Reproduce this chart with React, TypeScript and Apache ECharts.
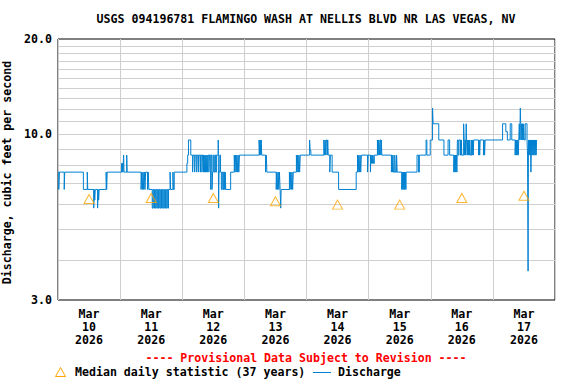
import React, { useEffect, useRef } from 'react';
import * as echarts from 'echarts';

const TITLE = 'USGS 094196781 FLAMINGO WASH AT NELLIS BLVD NR LAS VEGAS, NV';
const Y_NAME = 'Discharge, cubic feet per second';
const PROVISIONAL = '---- Provisional Data Subject to Revision ----';
const LEGEND_MEDIAN = 'Median daily statistic (37 years)';
const LEGEND_DISCHARGE = 'Discharge';
const MONTH = 'Mar';
const YEAR = '2026';
const DAYS = ['10', '11', '12', '13', '14', '15', '16', '17'];
const Y_MIN = 3;
const Y_MAX = 20;
const GRID_VALUES = [4, 5, 6, 7, 8, 9, 10, 11, 12, 13, 14, 15, 16, 17, 18, 19];

// median daily statistic, one per day (plotted at noon)
const MEDIAN = [6.25, 6.3, 6.3, 6.15, 6.0, 6.0, 6.3, 6.4];

// discharge readings per day: [hour of day, cfs]
const day10 = [
  [0, 7.6], [0.3, 6.7], [0.55, 7.6], [2.4, 6.7], [2.6, 7.6],
  [9.8, 6.7], [11.3, 7.6], [11.5, 6.7],
  [13.8, 5.85], [14.0, 6.7], [14.2, 6.2], [14.4, 6.7],
  [15.3, 5.85], [15.5, 6.7], [15.7, 6.2], [15.9, 6.7],
  [18.6, 7.6], [18.8, 6.7], [19.0, 7.6],
];
const day11 = [
  [0.6, 8.1], [0.8, 7.6], [0.95, 8.1], [1.1, 7.6], [1.35, 8.6], [1.5, 7.6], [2.55, 8.6], [2.7, 7.6],
  [8.1, 6.7], [8.35, 7.6], [8.6, 6.7], [8.85, 7.6], [9.1, 6.7], [9.35, 7.6], [9.6, 6.7], [9.85, 7.6],
  [10.6, 6.7], [10.85, 7.6], [11.1, 6.7],
  [12.4, 5.85], [12.7, 6.7], [13.0, 5.85], [13.3, 6.7], [13.6, 5.85], [13.9, 6.7], [14.2, 5.85],
  [14.5, 6.7], [14.8, 5.85], [15.1, 6.7], [15.4, 5.85], [15.7, 6.7], [16.0, 5.85], [16.3, 6.7],
  [16.6, 5.85], [16.9, 6.7], [17.2, 5.85], [17.5, 6.7], [17.8, 5.85], [18.1, 6.7], [18.4, 5.85], [18.7, 6.7],
  [19.3, 7.6], [19.5, 6.7], [20.4, 7.6], [20.6, 6.7], [20.9, 7.6],
];
const day12 = [
  [1.8, 8.1], [2.1, 8.6], [2.4, 9.6], [3.3, 8.6],
  [4.0, 7.6], [4.2, 8.6], [4.8, 7.6], [5.0, 8.6], [5.6, 7.6], [5.8, 8.6], [6.3, 7.6], [6.5, 8.6],
  [7.0, 7.6], [7.2, 8.6], [7.6, 7.6], [7.8, 8.6], [8.2, 7.6], [8.4, 8.6], [8.6, 7.6], [8.8, 8.6],
  [9.0, 7.6], [9.2, 8.6], [9.4, 7.6], [9.6, 8.6], [9.8, 7.6], [10.0, 8.6], [10.3, 7.6], [10.5, 8.6],
  [11.0, 6.7], [11.2, 8.6], [11.5, 6.7], [11.7, 7.6], [12.0, 8.6], [12.3, 7.6], [12.6, 8.6], [12.9, 7.6], [13.2, 8.6],
  [13.9, 9.6], [14.05, 5.85], [14.2, 7.6], [14.5, 8.6], [14.8, 7.6],
  [15.1, 6.7], [15.4, 7.6], [15.7, 6.7], [16.0, 7.6], [16.3, 6.7], [16.6, 7.6], [16.8, 6.7],
  [18.7, 7.6],
  [20.1, 8.6], [20.35, 7.6], [20.6, 8.6], [20.85, 7.6], [21.1, 8.6], [21.35, 7.6], [21.6, 8.6], [21.85, 7.6], [22.1, 8.6],
];
const day13 = [
  [5.7, 9.6], [5.9, 8.6], [6.1, 9.6], [6.35, 8.6], [6.5, 9.6], [6.7, 8.6],
  [8.2, 7.6], [8.45, 8.6], [8.7, 7.6],
  [12.3, 6.7], [12.55, 7.6], [12.8, 6.7], [13.05, 7.6], [13.3, 6.7], [13.55, 7.6], [13.8, 6.7], [14.05, 5.85], [14.2, 6.7],
  [17.4, 7.6], [17.65, 6.7], [17.9, 7.6], [18.15, 6.7], [18.4, 7.6], [18.65, 6.7], [18.9, 7.6],
  [20.1, 8.6], [20.35, 7.6], [20.6, 8.6], [20.85, 7.6], [21.1, 8.6], [21.35, 7.6], [21.6, 8.6],
];
const day14 = [
  [1.2, 9.6], [1.4, 8.9], [1.7, 8.6],
  [6.7, 9.6], [6.95, 8.6], [7.2, 9.6], [7.45, 8.6], [7.7, 9.6], [8.0, 8.6], [8.2, 9.6], [8.4, 8.6],
  [9.0, 7.6], [9.2, 8.6], [9.9, 7.6],
  [12.4, 6.7],
  [19.2, 7.6],
  [19.7, 8.6], [19.95, 7.6], [20.2, 8.6], [20.45, 7.6], [20.7, 8.6], [20.95, 7.6], [21.2, 8.6],
  [23.6, 7.6], [23.8, 8.6],
];
const day15 = [
  [0.7, 7.6], [0.9, 8.6], [1.1, 8.1], [1.3, 8.6], [1.5, 8.1], [1.7, 8.6], [1.9, 8.1], [2.2, 8.6],
  [3.4, 9.6], [3.65, 8.6], [3.9, 9.6], [4.15, 8.6], [4.4, 9.6], [4.7, 8.6], [4.9, 9.6], [5.1, 8.6],
  [8.8, 7.6], [9.0, 8.6], [9.2, 7.6], [9.4, 8.6], [9.6, 7.6], [10.1, 8.6], [10.3, 7.6], [10.8, 8.6], [11.0, 7.6],
  [12.8, 6.7], [13.0, 7.6], [13.2, 6.7], [13.4, 7.6], [13.6, 6.7], [13.8, 7.6], [14.0, 6.7], [14.2, 7.6], [14.4, 6.7], [14.5, 7.6],
  [18.7, 8.6], [19.3, 7.6], [19.6, 8.6],
  [22.2, 9.6], [22.5, 8.6], [23.8, 9.6],
];
const day16 = [
  [0.7, 12.1], [0.9, 10.8],
  [3.1, 9.6],
  [5.1, 8.6],
  [6.7, 9.6], [7.3, 8.6],
  [8.9, 7.6], [9.1, 8.6], [9.3, 7.6], [9.5, 8.6], [9.7, 7.6], [9.9, 8.6], [10.1, 7.6], [10.3, 9.6],
  [10.6, 8.6], [10.9, 9.6], [11.5, 8.6], [11.8, 9.6], [12.0, 8.6],
  [12.7, 10.8], [12.9, 9.6], [13.1, 8.6], [13.3, 9.6], [13.5, 8.6], [13.7, 10.8], [13.85, 9.6], [14.1, 8.6],
  [14.3, 9.6], [14.5, 8.6], [14.7, 9.6], [14.9, 8.6], [15.1, 9.6], [15.3, 8.6],
  [15.8, 9.6], [16.0, 8.6], [16.2, 9.6], [16.4, 8.6], [16.6, 9.6],
  [18.5, 8.6], [18.7, 9.6], [18.9, 8.6], [19.1, 9.6],
  [20.4, 8.6], [20.6, 9.6], [20.8, 8.6], [21.0, 9.6],
];
const day17 = [
  [3.75, 10.8], [5.0, 10.2], [5.6, 9.6],
  [6.7, 10.8], [7.3, 9.6],
  [8.6, 8.6], [8.8, 9.6], [9.0, 8.6], [9.2, 9.6], [9.4, 8.6], [9.6, 9.6], [9.8, 8.6], [10.0, 9.6],
  [10.2, 10.8], [10.4, 9.6], [10.6, 12.1], [10.75, 10.8], [10.9, 9.6], [11.1, 10.8], [11.3, 9.6],
  [11.5, 10.8], [11.7, 9.6], [11.9, 10.8], [12.1, 9.6],
  [12.5, 10.8], [13.2, 9.6],
  [13.4, 8.6], [13.6, 3.7], [13.75, 9.6], [13.9, 8.6], [14.1, 9.6], [14.3, 8.6], [14.5, 9.6], [14.7, 7.6],
  [14.9, 9.6], [15.1, 8.6], [15.3, 9.6], [15.5, 8.6], [15.7, 9.6], [15.9, 8.6], [16.1, 9.6], [16.3, 8.6],
  [16.5, 9.6], [16.7, 8.6], [16.9, 9.6], [17.0, 9.6],
];

const DAY_SERIES = [day10, day11, day12, day13, day14, day15, day16, day17];

const FONT = '"DejaVu Sans Mono", "Liberation Mono", monospace';
const FS = 11.6;
const BLUE = '#0080D0';
const ORANGE = '#FFA500';
const GRID_COLOR = '#cfcfcf';

function buildOption() {
  const discharge = DAY_SERIES.flatMap((arr, d) => arr.map(([h, v]) => [d * 24 + h, v]));
  const median = MEDIAN.map((v, d) => [d * 24 + 12, v]);
  const textStyle = { fontFamily: FONT, fontWeight: 'bold', fontSize: FS, fill: '#000' };
  return {
    animation: false,
    grid: {
      left: 58, right: 21, top: 39, bottom: 84, show: true, borderColor: '#000', borderWidth: 1,
      backgroundColor: 'transparent', containLabel: false, outerBoundsMode: 'none',
    },
    xAxis: [
      {
        type: 'value', min: 0, max: DAYS.length * 24, interval: 24,
        axisLine: { show: false }, axisTick: { show: false }, axisLabel: { show: false },
        splitLine: { show: true, lineStyle: { color: GRID_COLOR, width: 1 } },
      },
      {
        type: 'value', min: 0, max: DAYS.length * 24, interval: 12, position: 'bottom',
        axisLine: { show: false }, axisTick: { show: false }, splitLine: { show: false },
        axisLabel: {
          show: true, color: '#000', fontFamily: FONT, fontWeight: 'bold', fontSize: FS, lineHeight: 13, margin: 7,
          formatter: (v: number) => {
            if (v % 24 !== 12) return '';
            const i = (v - 12) / 24;
            return `${MONTH}\n${DAYS[i]}\n${YEAR}`;
          },
        },
      },
    ],
    yAxis: {
      type: 'log', logBase: 10, min: Y_MIN, max: Y_MAX,
      axisLine: { show: false }, axisTick: { show: false }, splitLine: { show: false },
      axisLabel: {
        color: '#000', fontFamily: FONT, fontWeight: 'bold', fontSize: FS, margin: 6,
        showMinLabel: true, showMaxLabel: true,
        formatter: (v: number) => Number(v).toFixed(1),
      },
      name: Y_NAME, nameLocation: 'middle', nameGap: 37,
      nameTextStyle: { color: '#000', fontFamily: FONT, fontWeight: 'bold', fontSize: FS, padding: [0, 6, 0, 0] },
    },
    series: [
      {
        name: LEGEND_DISCHARGE, type: 'line', step: 'end', xAxisIndex: 0, yAxisIndex: 0,
        data: discharge, showSymbol: false, symbol: 'none', z: 3,
        lineStyle: { color: BLUE, width: 1 }, itemStyle: { color: BLUE },
        emphasis: { disabled: true },
        markLine: {
          silent: true, z: 1, symbol: ['none', 'none'], label: { show: false },
          lineStyle: { color: GRID_COLOR, width: 1, type: 'solid' },
          emphasis: { disabled: true },
          data: GRID_VALUES.map((v) => ({ yAxis: v })),
        },
      },
      {
        name: LEGEND_MEDIAN, type: 'scatter', xAxisIndex: 0, yAxisIndex: 0, data: median, z: 4,
        symbol: 'triangle', symbolSize: [10, 9],
        itemStyle: { color: 'rgba(0,0,0,0)', borderColor: ORANGE, borderWidth: 1 },
        emphasis: { disabled: true },
      },
    ],
    graphic: [
      { type: 'text', x: 306, y: 19, style: { ...textStyle, text: TITLE, align: 'center', verticalAlign: 'middle' } },
      { type: 'text', x: 306, y: 358, style: { ...textStyle, fill: '#FF0000', text: PROVISIONAL, align: 'center', verticalAlign: 'middle' } },
      { type: 'polygon', shape: { points: [[55.5, 376.5], [65.5, 376.5], [60.5, 367.5]] }, style: { fill: 'none', stroke: ORANGE, lineWidth: 1 } },
      { type: 'text', x: 75, y: 372, style: { ...textStyle, text: LEGEND_MEDIAN, align: 'left', verticalAlign: 'middle' } },
      { type: 'line', shape: { x1: 313, y1: 372.5, x2: 331, y2: 372.5 }, style: { stroke: BLUE, lineWidth: 1 } },
      { type: 'text', x: 338, y: 372, style: { ...textStyle, text: LEGEND_DISCHARGE, align: 'left', verticalAlign: 'middle' } },
    ],
  };
}

export default function App() {
  const ref = useRef<HTMLDivElement>(null);
  useEffect(() => {
    const chart = echarts.init(ref.current as HTMLDivElement, null, { renderer: 'svg' });
    chart.setOption(buildOption() as any);
    return () => chart.dispose();
  }, []);
  return <div ref={ref} style={{ position: 'fixed', left: 0, top: 0, width: 576, height: 384, background: '#fff' }} />;
}
